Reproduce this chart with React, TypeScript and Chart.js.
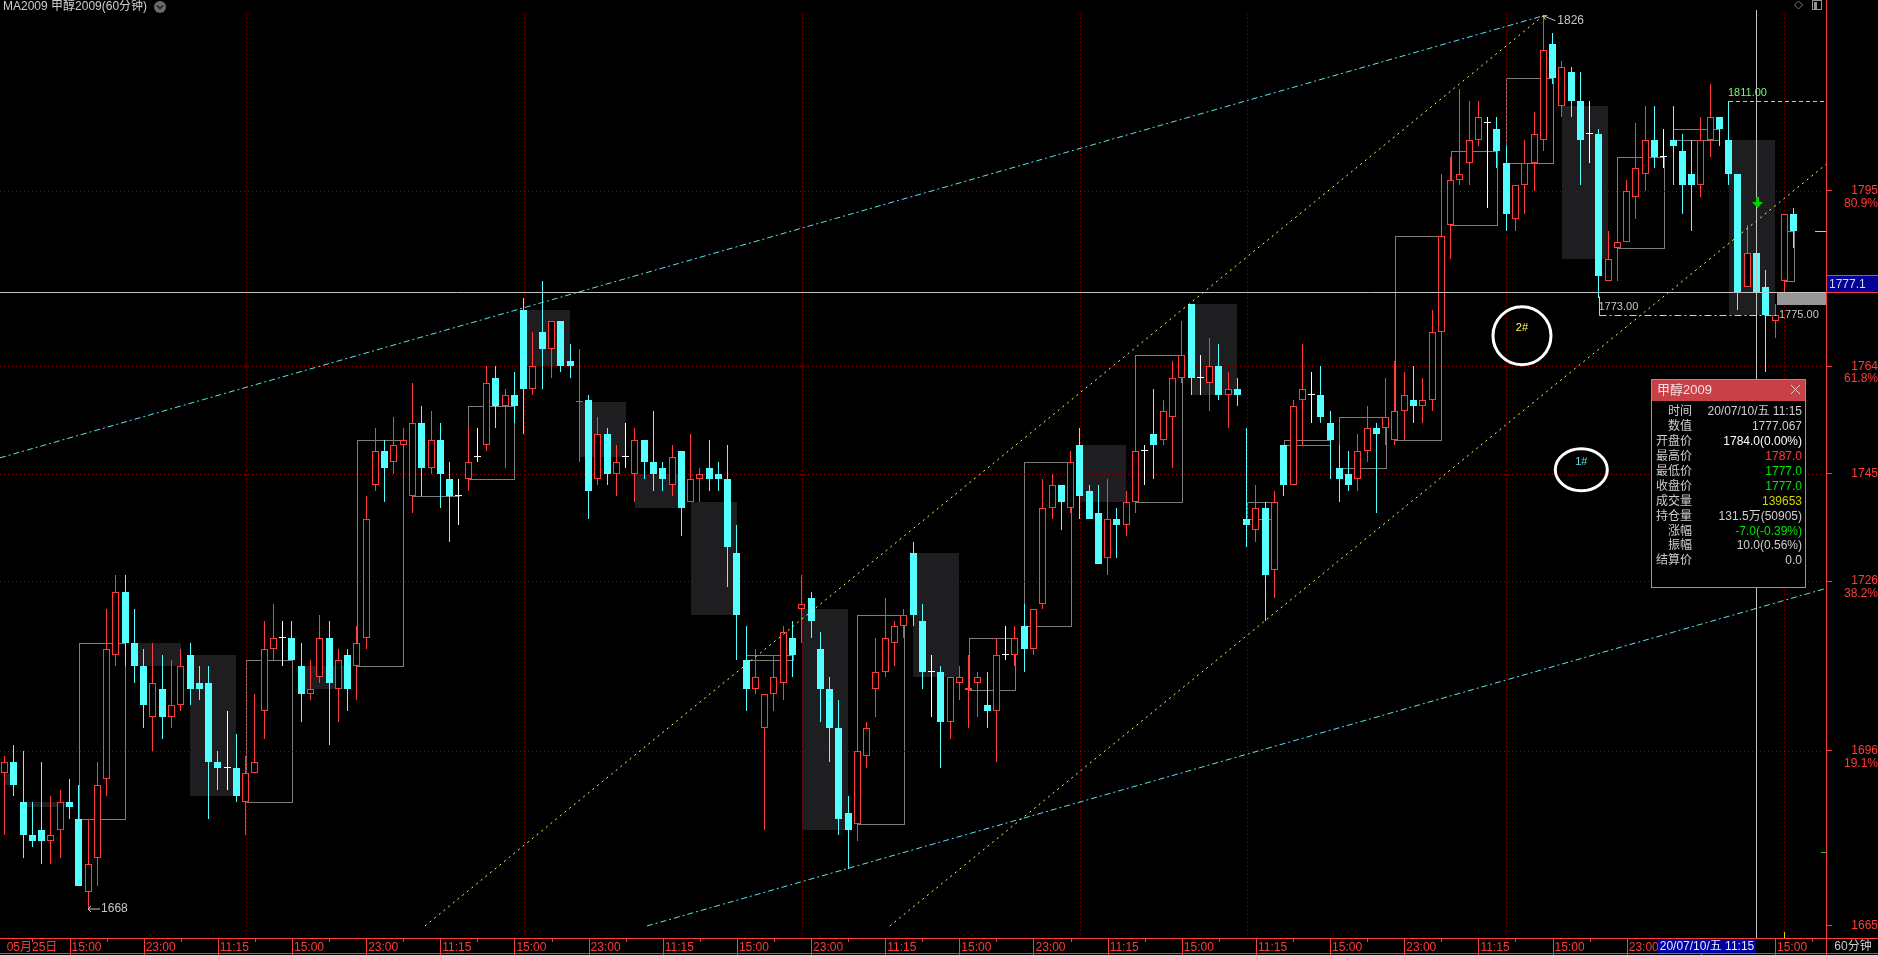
import React, { useEffect, useRef } from "react";
import { Chart, registerables } from "chart.js";

Chart.register(...registerables);

// ---------------- data ----------------
const slotCount = 197; // 194 hourly bars + 3 empty slots on the right

const opens = [
  1692, 1694, 1687, 1681, 1682, 1680, 1682, 1687, 1684, 1671,
  1677, 1691, 1713, 1724, 1715, 1711, 1702, 1707, 1702, 1704,
  1713, 1708, 1708, 1694, 1693, 1693, 1687, 1692, 1703, 1714,
  1716, 1716, 1711, 1706, 1709, 1716, 1707, 1713, 1711, 1716,
  1743, 1749, 1747, 1750, 1741, 1754, 1746, 1751, 1744, 1741,
  1744, 1748, 1750, 1762, 1757, 1759, 1774, 1760, 1770, 1767,
  1772, 1765, 1757.6, 1758, 1744, 1752, 1745, 1748, 1745, 1751,
  1747, 1746, 1743, 1749, 1740, 1744, 1746, 1745, 1744, 1731,
  1712, 1707, 1700, 1706, 1708, 1716, 1721, 1723, 1714, 1707,
  1700, 1685, 1683, 1695, 1707, 1710, 1715, 1718, 1731, 1719,
  1710, 1710, 1701, 1708, 1706.8, 1708, 1704, 1703, 1713, 1713,
  1718, 1714, 1722, 1739, 1743, 1739, 1750, 1742, 1738, 1730,
  1737, 1736, 1740, 1749, 1752, 1751, 1755, 1762, 1775, 1762,
  1761, 1764, 1759, 1760, 1737, 1735, 1739, 1728, 1750, 1743,
  1758, 1759, 1759, 1754, 1746, 1745, 1744, 1749, 1753, 1753,
  1751, 1756, 1758, 1757, 1758, 1770, 1789, 1797, 1800, 1804,
  1807, 1806, 1800, 1790, 1796, 1800, 1804, 1821, 1810, 1816,
  1811, 1805, 1805, 1779, 1785, 1786, 1794, 1798, 1804, 1801,
  1804, 1802, 1798, 1796, 1804, 1808, 1804, 1798, 1778, 1784,
  1778, 1772, 1779, 1791,
];

const highs = [
  1695, 1697, 1696, 1687, 1694, 1688, 1689, 1691, 1690, 1684,
  1694, 1721, 1727, 1727, 1721, 1714, 1715, 1713, 1712, 1714,
  1715, 1711, 1711, 1696, 1703, 1699, 1695, 1706, 1719, 1722,
  1719, 1719, 1715, 1712, 1720, 1719, 1714, 1714, 1718, 1741,
  1753, 1751, 1755, 1753, 1761, 1757, 1756, 1754, 1747, 1744,
  1753, 1753, 1764, 1764, 1760, 1763, 1776, 1770, 1779, 1772,
  1772, 1768, 1767, 1759, 1755, 1753, 1750, 1754, 1753, 1751,
  1756, 1747, 1750, 1749, 1752, 1746, 1751, 1747, 1750, 1736,
  1718, 1714, 1706, 1713, 1718, 1719, 1727, 1724, 1717, 1709,
  1705, 1688, 1696, 1701, 1716, 1723, 1719, 1721, 1733, 1722,
  1713, 1711, 1709, 1711, 1713, 1710, 1710, 1716, 1718, 1718,
  1722, 1721, 1744, 1745, 1743, 1749, 1753, 1743, 1743, 1744,
  1739, 1742, 1752, 1750, 1760, 1758, 1765, 1772, 1775, 1766,
  1769, 1768, 1763, 1762, 1753, 1743, 1740, 1742, 1750, 1758,
  1768, 1763, 1764, 1756, 1750, 1749, 1752, 1757, 1754, 1762,
  1765, 1763, 1764, 1762, 1774, 1798, 1801, 1813, 1811, 1811,
  1808, 1808, 1803, 1796, 1804, 1809, 1826, 1823, 1818, 1817,
  1816, 1811, 1806, 1788, 1788, 1797, 1807, 1810, 1810, 1806,
  1810, 1805, 1804, 1808, 1814, 1808, 1811, 1798, 1789, 1787,
  1781, 1775, 1791, 1792,
];

const lows = [
  1681, 1688, 1677, 1679, 1676, 1676, 1677, 1684, 1672, 1668,
  1672, 1688, 1711, 1711, 1708, 1700, 1696, 1698, 1700, 1703,
  1704, 1705, 1684, 1689, 1689, 1687, 1681, 1692, 1698, 1712,
  1711, 1712, 1701, 1705, 1708, 1697, 1701, 1703, 1705, 1714,
  1742, 1740, 1745, 1749, 1738, 1741, 1745, 1739, 1733, 1736,
  1742, 1747, 1749, 1753, 1746, 1754, 1752, 1759, 1760, 1762,
  1763, 1762, 1747, 1737, 1743, 1743, 1741, 1746, 1740, 1744,
  1742, 1742, 1741, 1734, 1740, 1740, 1742, 1742, 1725, 1712,
  1703, 1706, 1682, 1703, 1705, 1709, 1715, 1716, 1701, 1694,
  1681, 1675, 1680, 1693, 1702, 1709, 1711, 1716, 1718, 1707,
  1702, 1693, 1698, 1705, 1700, 1702, 1700, 1694, 1712, 1711,
  1710, 1713, 1721, 1737, 1735, 1738, 1737, 1737, 1729, 1727,
  1730, 1734, 1738, 1743, 1744, 1750, 1746, 1761, 1759, 1759,
  1756, 1758, 1753, 1757, 1732, 1733, 1719, 1723, 1741, 1743,
  1750, 1754, 1754, 1744, 1740, 1742, 1742, 1747, 1738, 1750,
  1750, 1751, 1754, 1754, 1756, 1769, 1783, 1796, 1796, 1803,
  1792, 1799, 1788, 1788, 1791, 1795, 1802, 1814, 1808, 1808,
  1796, 1800, 1776, 1779, 1779, 1786, 1790, 1795, 1799, 1799,
  1796, 1791, 1788, 1794, 1801, 1803, 1796, 1774, 1778, 1777,
  1763, 1769, 1777, 1785,
];

const closes = [
  1694, 1690, 1681, 1680, 1680, 1681, 1687, 1686, 1672, 1676,
  1690, 1714, 1724, 1715, 1711, 1704, 1708, 1702, 1704, 1711,
  1707, 1707, 1694, 1693, 1693, 1688, 1692, 1694, 1714, 1716,
  1716, 1712, 1706, 1707, 1716, 1708, 1712, 1707, 1715, 1737,
  1749, 1746, 1750, 1751, 1754, 1746, 1751, 1745, 1741, 1741,
  1747, 1748, 1761, 1757, 1759, 1757, 1760, 1764, 1767, 1772,
  1764, 1764, 1757.9, 1742, 1752, 1745, 1747, 1748, 1751, 1747,
  1745, 1744, 1748, 1739, 1744, 1745, 1744, 1744, 1732, 1720,
  1707, 1709, 1706, 1709, 1717, 1713, 1722, 1719, 1707, 1700,
  1684, 1682, 1696, 1700, 1710, 1716, 1718, 1720, 1720, 1710,
  1710, 1701, 1709, 1709, 1707.1, 1709, 1703, 1713, 1713, 1716,
  1714, 1721, 1739, 1743, 1740, 1747, 1741, 1737, 1729, 1737,
  1736, 1740, 1749, 1749, 1750, 1756, 1762, 1766, 1762, 1762,
  1764, 1759, 1760, 1759, 1736, 1739, 1727, 1740, 1743, 1757,
  1760, 1759, 1755, 1751, 1744, 1743, 1749, 1753, 1752, 1755,
  1756, 1759, 1757, 1758, 1770, 1787, 1797, 1798, 1804, 1808,
  1807, 1802, 1791, 1796, 1800, 1805, 1820, 1815, 1817, 1811,
  1804, 1805, 1780, 1783, 1786, 1795, 1799, 1804, 1801, 1801,
  1803, 1796, 1796, 1804, 1808, 1806, 1798, 1777, 1784, 1777,
  1773, 1773, 1791, 1788,
];

// first bar of every trading day (daily boxes)
const dayStarts = [
  0, 2, 8, 14, 20, 26, 32, 38, 44, 50, 56, 62, 68, 74, 80, 86, 92, 98, 104,
  110, 116, 122, 128, 134, 138, 144, 150, 156, 162, 168, 174, 180, 186, 192,
];
// first bar of each week (vertical dotted grid)
const weekStarts = [26, 56, 86, 116, 134, 162, 192];

const xTickLabels: [number, string][] = [
  [0, "05月25日"], [7, "15:00"], [15, "23:00"], [23, "11:15"], [31, "15:00"],
  [39, "23:00"], [47, "11:15"], [55, "15:00"], [63, "23:00"], [71, "11:15"],
  [79, "15:00"], [87, "23:00"], [95, "11:15"], [103, "15:00"], [111, "23:00"],
  [119, "11:15"], [127, "15:00"], [135, "11:15"], [143, "15:00"], [151, "23:00"],
  [159, "11:15"], [167, "15:00"], [175, "23:00"], [183, "11:15"], [191, "15:00"],
];

const yTickValues = [1665, 1696, 1726, 1745, 1764, 1795];
const yTickPercents = ["", "19.1%", "38.2%", "", "61.8%", "80.9%"];
const yMin = 1662.87;
const yMax = 1828.78;

// drawn trend lines: [index, price] pairs
const upperCyanLine = [[-0.5, 1747.8], [166, 1826]];
const lowerCyanLine = [[69.3, 1665], [196.5, 1724.7]];
const yellowLineA = [[45.35, 1665], [166, 1826]];
const yellowLineB = [[95.5, 1665], [196.5, 1799.7]];

const crosshairIndex = 189;
const crosshairPrice = 1777.067;
const crosshairTimeLabel = "20/07/10/五 11:15";

const infoTitle = "甲醇2009";
const infoLabels = ["时间", "数值", "开盘价", "最高价", "最低价", "收盘价", "成交量", "持仓量", "涨幅", "振幅", "结算价"];
const infoValues = [
  "20/07/10/五 11:15", "1777.067", "1784.0(0.00%)", "1787.0", "1777.0", "1777.0",
  "139653", "131.5万(50905)", "-7.0(-0.39%)", "10.0(0.56%)", "0.0",
];
const infoValueColors = [
  "#d0d0d0", "#d0d0d0", "#ffffff", "#ff3c3c", "#00e600", "#00e600",
  "#d2d200", "#d0d0d0", "#00e600", "#d0d0d0", "#d0d0d0",
];

// ---------------- styling ----------------
const FONT = '"Liberation Sans", "Noto Sans CJK SC", sans-serif';
const RED = "rgb(255,60,60)";
const CYAN = "rgb(84,255,255)";
const WHITE = "rgb(255,255,255)";
const GRID = "rgb(150,0,0)";

const categories = Array.from({ length: slotCount }, (_, i) => String(i));
const tickMap = new Map<number, string>(xTickLabels);

const candleDir = (i: number) => (closes[i] > opens[i] ? 1 : closes[i] < opens[i] ? -1 : 0);
const candleColor = (i: number) => {
  const d = candleDir(i);
  return d > 0 ? RED : d < 0 ? CYAN : WHITE;
};

function drawText(ctx: CanvasRenderingContext2D, s: string, x: number, y: number, color: string, size = 12, align: CanvasTextAlign = "left", base: CanvasTextBaseline = "middle") {
  ctx.font = `${size}px ${FONT}`;
  ctx.fillStyle = color;
  ctx.textAlign = align;
  ctx.textBaseline = base;
  ctx.fillText(s, x, y);
}

const snap = (v: number) => Math.round(v) + 0.5;

const overlayPlugin = {
  id: "overlay",
  beforeDraw(chart: any) {
    const { ctx, width, height } = chart;
    ctx.save();
    ctx.fillStyle = "#000";
    ctx.fillRect(0, 0, width, height);
    ctx.restore();
  },
  afterDatasetsUpdate(chart: any) {
    chart.data.datasets.forEach((_: any, di: number) => {
      const meta = chart.getDatasetMeta(di);
      meta.data.forEach((el: any) => {
        el.x = Math.floor(el.x) + 0.5;
        el.y = Math.round(el.y);
        el.base = Math.round(el.base);
      });
    });
  },
  beforeDatasetsDraw(chart: any) {
    const { ctx, chartArea: ca } = chart;
    const xs = chart.scales.x;
    const ys = chart.scales.y;
    ctx.save();
    // daily boxes
    dayStarts.forEach((s, k) => {
      const e = (k + 1 < dayStarts.length ? dayStarts[k + 1] : opens.length) - 1;
      const o = opens[s];
      const c = closes[e];
      const x1 = Math.round(xs.getPixelForValue(s));
      const x2 = Math.round(xs.getPixelForValue(e));
      const y1 = Math.round(ys.getPixelForValue(Math.max(o, c)));
      const y2 = Math.round(ys.getPixelForValue(Math.min(o, c)));
      if (c < o) {
        ctx.fillStyle = "rgb(30,30,33)";
        ctx.fillRect(x1, y1, x2 - x1, Math.max(1, y2 - y1));
      } else {
        ctx.strokeStyle = "rgb(125,125,125)";
        ctx.lineWidth = 1;
        ctx.strokeRect(x1 + 0.5, y1 + 0.5, x2 - x1, y2 - y1);
      }
    });
    // dotted grid
    ctx.strokeStyle = GRID;
    ctx.lineWidth = 1;
    ctx.setLineDash([1, 3]);
    weekStarts.forEach((i) => {
      const X = snap(xs.getPixelForValue(i));
      ctx.beginPath();
      ctx.moveTo(X, 14);
      ctx.lineTo(X, ca.bottom);
      ctx.stroke();
    });
    yTickValues.forEach((v) => {
      if (v === 1665) return;
      const Y = snap(ys.getPixelForValue(v));
      ctx.beginPath();
      ctx.moveTo(0, Y);
      ctx.lineTo(ca.right - 3, Y);
      ctx.stroke();
    });
    ctx.restore();
  },
  afterDatasetsDraw(chart: any) {
    const { ctx, chartArea: ca } = chart;
    const xs = chart.scales.x;
    const ys = chart.scales.y;
    const P = (p: number[]) => [xs.getPixelForValue(p[0]), ys.getPixelForValue(p[1])];
    ctx.save();
    ctx.beginPath();
    ctx.rect(ca.left, ca.top, ca.right - ca.left, ca.bottom - ca.top);
    ctx.clip();

    const seg = (pts: number[][], color: string, dash: number[], w = 1) => {
      const a = P(pts[0]);
      const b = P(pts[1]);
      ctx.strokeStyle = color;
      ctx.lineWidth = w;
      ctx.setLineDash(dash);
      ctx.beginPath();
      ctx.moveTo(a[0], a[1]);
      ctx.lineTo(b[0], b[1]);
      ctx.stroke();
    };
    seg(upperCyanLine, "rgb(90,225,235)", [6, 3, 2, 3]);
    seg(lowerCyanLine, "rgb(90,225,235)", [6, 3, 2, 3]);
    seg(yellowLineA, "rgb(255,255,90)", [2, 4]);
    seg(yellowLineB, "rgb(255,255,90)", [2, 4]);

    // crosshair
    const cx = snap(xs.getPixelForValue(crosshairIndex));
    const cy = snap(ys.getPixelForValue(crosshairPrice));
    ctx.setLineDash([]);
    ctx.strokeStyle = "rgb(195,195,195)";
    ctx.beginPath();
    ctx.moveTo(cx, 10);
    ctx.lineTo(cx, ca.bottom);
    ctx.moveTo(0, cy);
    ctx.lineTo(ca.right, cy);
    ctx.stroke();

    // 1811 green dashed level
    const gY = snap(ys.getPixelForValue(1811));
    const gX = Math.round(xs.getPixelForValue(186));
    ctx.strokeStyle = "rgb(110,255,110)";
    ctx.setLineDash([4, 3]);
    ctx.beginPath();
    ctx.moveTo(gX, gY);
    ctx.lineTo(ca.right, gY);
    ctx.stroke();
    drawText(ctx, "1811.00", gX - 1, gY - 9, "rgb(110,255,110)", 11);

    // 1773 dash-dot level
    const lY = snap(ys.getPixelForValue(1773));
    const lX1 = snap(xs.getPixelForValue(172));
    const lX2 = Math.round(xs.getPixelForValue(191.2));
    ctx.strokeStyle = "rgb(205,205,205)";
    ctx.setLineDash([7, 3, 2, 3]);
    ctx.beginPath();
    ctx.moveTo(lX1, lY);
    ctx.lineTo(lX2, lY);
    ctx.stroke();
    ctx.setLineDash([]);
    ctx.beginPath();
    ctx.moveTo(lX1, snap(ys.getPixelForValue(1776.5)));
    ctx.lineTo(lX1, lY);
    ctx.stroke();
    drawText(ctx, "1773.00", lX1 - 1, lY - 9, "rgb(200,200,200)", 11);

    // last price gray patch + 1775 text
    const rX = lX2;
    const rY1 = Math.round(ys.getPixelForValue(crosshairPrice)) + 1;
    const rY2 = Math.round(ys.getPixelForValue(1775));
    ctx.fillStyle = "rgb(150,150,150)";
    ctx.fillRect(rX, rY1, ca.right - rX, rY2 - rY1 + 1);
    drawText(ctx, "1775.00", rX + 2, rY2 + 11, "rgb(200,200,200)", 11);

    // green arrow signal
    const ax = xs.getPixelForValue(crosshairIndex) + 1;
    const ay = ys.getPixelForValue(1793);
    ctx.fillStyle = "rgb(0,210,0)";
    ctx.fillRect(Math.round(ax) - 1, Math.round(ay) - 5, 3, 5);
    ctx.beginPath();
    ctx.moveTo(Math.round(ax) - 5, Math.round(ay));
    ctx.lineTo(Math.round(ax) + 6, Math.round(ay));
    ctx.lineTo(Math.round(ax) + 0.5, Math.round(ay) + 6);
    ctx.closePath();
    ctx.fill();

    // high / low callouts
    const hx = xs.getPixelForValue(166);
    const hy = ys.getPixelForValue(1826);
    ctx.strokeStyle = "rgb(200,200,200)";
    ctx.lineWidth = 1;
    ctx.beginPath();
    ctx.moveTo(hx, hy);
    ctx.lineTo(hx + 12, hy + 5);
    ctx.moveTo(hx, hy);
    ctx.lineTo(hx + 4, hy);
    ctx.moveTo(hx, hy);
    ctx.lineTo(hx + 2, hy + 4);
    ctx.stroke();
    drawText(ctx, "1826", hx + 14, hy + 5, "rgb(200,200,200)", 12);
    const lx = xs.getPixelForValue(9);
    const ly = ys.getPixelForValue(1668);
    ctx.beginPath();
    ctx.moveTo(lx, ly);
    ctx.lineTo(lx + 12, ly);
    ctx.moveTo(lx, ly);
    ctx.lineTo(lx + 3, ly - 3);
    ctx.moveTo(lx, ly);
    ctx.lineTo(lx + 3, ly + 3);
    ctx.stroke();
    drawText(ctx, "1668", lx + 13, ly, "rgb(200,200,200)", 12);

    // hand drawn circles
    const circ = (i: number, p: number, rx: number, ry: number, label: string, color: string) => {
      const c = P([i, p]);
      ctx.strokeStyle = "#ffffff";
      ctx.lineWidth = 3;
      ctx.beginPath();
      ctx.ellipse(c[0], c[1], rx, ry, 0, 0, Math.PI * 2);
      ctx.stroke();
      drawText(ctx, label, c[0], c[1] - 8, color, 11, "center");
    };
    circ(163.7, 1769.4, 29, 29, "2#", "rgb(255,255,90)");
    circ(170.1, 1745.7, 26, 21, "1#", "rgb(90,225,235)");
    ctx.restore();

    // small right-edge markers
    ctx.save();
    ctx.lineWidth = 1;
    ctx.strokeStyle = "rgb(220,220,0)";
    const mY = snap(ys.getPixelForValue(closes[closes.length - 1]));
    ctx.beginPath();
    ctx.moveTo(ca.right - 11, mY);
    ctx.lineTo(ca.right, mY);
    ctx.stroke();
    ctx.strokeStyle = "rgb(0,220,0)";
    const m2 = snap(ys.getPixelForValue(1678));
    ctx.beginPath();
    ctx.moveTo(ca.right - 5, m2);
    ctx.lineTo(ca.right, m2);
    ctx.stroke();
    ctx.strokeStyle = "rgb(220,220,0)";
    const bx = snap(xs.getPixelForValue(192));
    ctx.beginPath();
    ctx.moveTo(bx, ca.bottom - 6);
    ctx.lineTo(bx, ca.bottom);
    ctx.stroke();
    ctx.restore();
  },
  afterDraw(chart: any) {
    const { ctx, chartArea: ca, width: W, height: H } = chart;
    const xs = chart.scales.x;
    const ys = chart.scales.y;
    ctx.save();
    ctx.lineWidth = 1;
    ctx.setLineDash([]);
    ctx.strokeStyle = RED;
    // axis frame
    ctx.beginPath();
    ctx.moveTo(0, ca.bottom + 0.5);
    ctx.lineTo(W, ca.bottom + 0.5);
    ctx.moveTo(0, H - 1.5);
    ctx.lineTo(W, H - 1.5);
    ctx.moveTo(ca.right + 0.5, 0);
    ctx.lineTo(ca.right + 0.5, H);
    ctx.stroke();
    // separators and minor ticks
    ctx.beginPath();
    xTickLabels.forEach(([i]) => {
      if (i === 0) return;
      const X = snap(xs.getPixelForValue(i));
      ctx.moveTo(X, ca.bottom);
      ctx.lineTo(X, H);
    });
    for (let i = 3; i < slotCount; i += 8) {
      const X = snap(xs.getPixelForValue(i));
      ctx.moveTo(X, ca.bottom);
      ctx.lineTo(X, ca.bottom + 4);
    }
    ctx.stroke();
    drawText(ctx, "60分钟", (ca.right + W) / 2 + 1, ca.bottom + 9, "rgb(205,205,205)", 12, "center");

    // crosshair labels
    const cx = Math.round(xs.getPixelForValue(crosshairIndex));
    ctx.fillStyle = "rgb(0,0,160)";
    ctx.fillRect(cx - 98, ca.bottom + 1, 98, H - ca.bottom - 3);
    drawText(ctx, crosshairTimeLabel, cx - 49, ca.bottom + 9, "rgb(235,235,255)", 12, "center");
    const cy = Math.round(ys.getPixelForValue(crosshairPrice));
    ctx.fillStyle = "rgb(0,0,150)";
    ctx.fillRect(ca.right + 1, cy - 16, W - ca.right - 1, 17);
    ctx.strokeStyle = RED;
    ctx.beginPath();
    ctx.moveTo(ca.right, cy - 16.5);
    ctx.lineTo(W, cy - 16.5);
    ctx.moveTo(ca.right, cy + 0.5);
    ctx.lineTo(W, cy + 0.5);
    ctx.stroke();
    drawText(ctx, crosshairPrice.toFixed(1), ca.right + 3, cy - 7, "rgb(215,215,235)", 12);

    // info box
    const bx = 1651;
    const by = 379;
    const bw = 155;
    const bh = 209;
    ctx.fillStyle = "#000";
    ctx.fillRect(bx, by, bw, bh);
    ctx.fillStyle = "rgb(200,65,72)";
    ctx.fillRect(bx, by, bw, 22);
    ctx.strokeStyle = "rgb(150,150,150)";
    ctx.strokeRect(bx + 0.5, by + 0.5, bw - 1, bh - 1);
    drawText(ctx, infoTitle, bx + 6, by + 11, "rgb(245,225,230)", 13);
    ctx.strokeStyle = "rgb(240,200,200)";
    ctx.beginPath();
    ctx.moveTo(bx + bw - 15, by + 6);
    ctx.lineTo(bx + bw - 6, by + 15);
    ctx.moveTo(bx + bw - 6, by + 6);
    ctx.lineTo(bx + bw - 15, by + 15);
    ctx.stroke();
    infoLabels.forEach((lab, k) => {
      const yy = by + 33 + k * 14.9;
      drawText(ctx, lab, bx + 41, yy, "rgb(205,205,205)", 12, "right");
      drawText(ctx, infoValues[k], bx + bw - 4, yy, infoValueColors[k], 12, "right");
    });

    // title
    drawText(ctx, "MA2009 甲醇2009(60分钟)", 3, 7, "rgb(205,205,205)", 12);
    ctx.fillStyle = "rgb(105,105,105)";
    ctx.beginPath();
    ctx.arc(160, 7, 6, 0, Math.PI * 2);
    ctx.fill();
    ctx.strokeStyle = "rgb(25,25,25)";
    ctx.lineWidth = 1.5;
    ctx.beginPath();
    ctx.moveTo(157, 5.5);
    ctx.lineTo(160, 8.5);
    ctx.lineTo(163, 5.5);
    ctx.stroke();

    // top-right icons
    ctx.lineWidth = 1;
    ctx.strokeStyle = "rgb(120,120,120)";
    ctx.beginPath();
    ctx.moveTo(1798.5, 1);
    ctx.lineTo(1802.5, 5);
    ctx.lineTo(1798.5, 9);
    ctx.lineTo(1794.5, 5);
    ctx.closePath();
    ctx.stroke();
    ctx.strokeStyle = "rgb(150,150,150)";
    ctx.strokeRect(1812.5, 0.5, 9, 9);
    ctx.fillStyle = "rgb(150,150,150)";
    ctx.fillRect(1814, 2, 3, 7);
    ctx.restore();
  },
};

export default function App() {
  const ref = useRef<HTMLCanvasElement>(null);
  useEffect(() => {
    document.body.style.margin = "0";
    document.body.style.background = "#000";
    const canvas = ref.current;
    if (!canvas) return;
    const wickData = highs.map((h, i) => [lows[i], h]);
    const bodyData = opens.map((o, i) => [Math.min(o, closes[i]), Math.max(o, closes[i])]);
    const chart = new Chart(canvas, {
      type: "bar",
      data: {
        labels: categories,
        datasets: [
          {
            label: "wick",
            data: wickData as any,
            backgroundColor: opens.map((_, i) => candleColor(i)),
            borderWidth: 0,
            barThickness: 1,
            grouped: false,
            inflateAmount: 0,
            order: 2,
          } as any,
          {
            label: "body",
            data: bodyData as any,
            backgroundColor: opens.map((_, i) => (candleDir(i) > 0 ? "#000000" : candleColor(i))),
            borderColor: opens.map((_, i) => candleColor(i)),
            borderWidth: opens.map((_, i) => (candleDir(i) > 0 ? 1 : 0)),
            borderSkipped: false,
            barThickness: 7,
            minBarLength: 1,
            grouped: false,
            inflateAmount: 0,
            order: 1,
          } as any,
        ],
      },
      options: {
        responsive: false,
        animation: false,
        devicePixelRatio: 1,
        layout: { padding: 0 },
        plugins: { legend: { display: false }, tooltip: { enabled: false }, title: { display: false } },
        scales: {
          x: {
            type: "category",
            offset: true,
            afterFit: (s: any) => {
              s.height = 17;
              s.paddingLeft = 0;
              s.paddingRight = 0;
            },
            grid: { display: false, drawTicks: false, tickLength: 0 },
            border: { display: false },
            ticks: {
              autoSkip: false,
              maxRotation: 0,
              minRotation: 0,
              align: "start",
              padding: 2,
              labelOffset: 2,
              color: RED,
              font: { family: FONT, size: 12 },
              callback: (_v: any, i: number) => tickMap.get(i) ?? "",
            },
          },
          y: {
            type: "linear",
            position: "right",
            min: yMin,
            max: yMax,
            afterBuildTicks: (s: any) => {
              s.ticks = yTickValues.map((v) => ({ value: v }));
            },
            afterFit: (s: any) => {
              s.width = 52;
              s.paddingTop = 0;
              s.paddingBottom = 0;
            },
            grid: { drawOnChartArea: false, color: RED, tickLength: 6 },
            border: { display: false },
            ticks: {
              color: RED,
              padding: 4,
              crossAlign: "far",
              labelOffset: 6.3,
              font: { family: FONT, size: 12, lineHeight: 1.05 },
              callback: (_v: any, i: number) => [String(yTickValues[i]), yTickPercents[i]],
            },
          },
        },
      },
      plugins: [overlayPlugin as any],
    } as any);
    return () => chart.destroy();
  }, []);
  return (
    <div style={{ position: "fixed", left: 0, top: 0, width: 1878, height: 955, background: "#000" }}>
      <canvas ref={ref} width={1878} height={955} style={{ display: "block", width: 1878, height: 955 }} />
    </div>
  );
}
